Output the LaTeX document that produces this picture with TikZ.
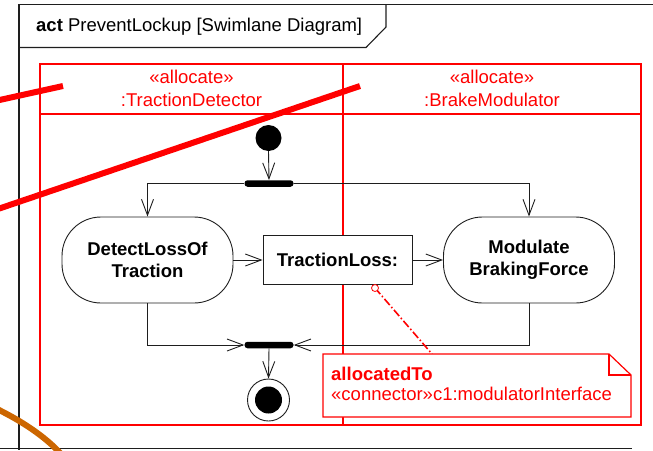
\documentclass[tikz,border=0pt]{standalone}
\usepackage{fontspec}
\setmainfont{Liberation Sans}
\usetikzlibrary{arrows.meta}
\definecolor{umlred}{RGB}{255,0,0}
\definecolor{arcorange}{RGB}{204,102,0}
\definecolor{ink}{RGB}{30,30,30}
\begin{document}
\begin{tikzpicture}[x=1pt,y=-1pt,
  every node/.style={font=\fontsize{18.5}{22}\selectfont, inner sep=0pt},
  actbox/.style={draw=ink, line width=0.9pt, fill=white, rounded corners=39pt,
    minimum width=171pt, minimum height=86pt, align=center,
    font=\fontsize{18.5}{22.5}\selectfont\bfseries},
  objbox/.style={draw=ink, line width=0.9pt, fill=white, minimum width=149pt,
    minimum height=49pt, font=\fontsize{18.5}{22}\selectfont\bfseries},
  barbox/.style={fill=black, minimum width=49pt, minimum height=6.5pt, rounded corners=3pt},
  flow/.style={draw=ink, line width=0.9pt, -{Straight Barb[length=16pt,width=12pt]}},
  framebox/.style={draw=ink, line width=1.1pt},
  lane/.style={draw=umlred, line width=1.2pt},
  redtext/.style={text=umlred},
  slash/.style={draw=umlred, line width=6pt},
]
\useasboundingbox (0,0) rectangle (653,450);
% frame
\draw[framebox] (660,4.5) -- (19,4.5) -- (19,450);
\draw[framebox] (0,448.5) -- (632,448.5);
\draw[framebox] (19,47.5) -- (366,47.5) -- (386,27) -- (386,4.5);
\node[anchor=base west] (title) at (36,31) {\textbf{act} PreventLockup [Swimlane Diagram]};
% swimlanes
\draw[lane] (40,64) rectangle (641,425);
\draw[lane] (40,114) -- (641,114);
\draw[lane] (343,64) -- (343,425);
\node[redtext, anchor=base] (st1) at (191.5,83) {«allocate»};
\node[redtext, anchor=base] (ln1) at (191.5,106) {:TractionDetector};
\node[redtext, anchor=base] (st2) at (492,83) {«allocate»};
\node[redtext, anchor=base] (ln2) at (492,106) {:BrakeModulator};
% nodes
\node[circle, fill=black, minimum size=26pt] (init) at (268.5,138) {};
\node[barbox] (fork) at (269,183.5) {};
\node[actbox] (detect) at (147.5,260) {DetectLossOf\\Traction};
\node[objbox] (tloss) at (337.5,260) {TractionLoss:};
\node[actbox] (modulate) at (529,260) {Modulate\\BrakingForce};
\node[barbox] (join) at (269,345) {};
\node[circle, draw=ink, line width=0.9pt, fill=white, minimum size=42pt] (final) at (268.5,400) {};
\node[circle, fill=black, minimum size=27pt] (finalin) at (268.5,400) {};
% flows
\draw[flow] (init.south) -- (fork.north);
\draw[flow] (fork.west) -| (detect.north);
\draw[flow] (fork.east) -| (modulate.north);
\draw[flow] (detect.east) -- (tloss.west);
\draw[flow] (tloss.east) -- (modulate.west);
\draw[flow] (detect.south) |- (join.west);
\draw[flow] (modulate.south) |- (join.east);
\draw[flow] (join.south) -- (final.north);
% note
\coordinate (notetop) at (432,354);
\draw[umlred, line width=1.6pt, dash pattern=on 8pt off 2.5pt on 1.5pt off 2.5pt] (375,288) -- (notetop);
\node[circle, draw=umlred, fill=white, line width=0.8pt, minimum size=7pt] (pin) at (375,288) {};
\draw[lane, fill=white] (323,354) -- (609,354) -- (631,375) -- (631,417) -- (323,417) -- cycle;
\draw[lane] (609,354) -- (609,375) -- (631,375);
\node[redtext, anchor=base west, font=\fontsize{18.5}{22}\selectfont\bfseries] (ntitle) at (331,380) {allocatedTo};
\node[redtext, anchor=base west] (nbody) at (331,400) {«connector»c1:modulatorInterface};
% overlay strokes
\draw[slash] (-5,101) -- (63,86);
\draw[slash] (360,86) -- (-5,210);
\draw[draw=arcorange, line width=6pt] (-5,408) .. controls (20,420) and (45,436) .. (62,455);
\end{tikzpicture}
\end{document}
